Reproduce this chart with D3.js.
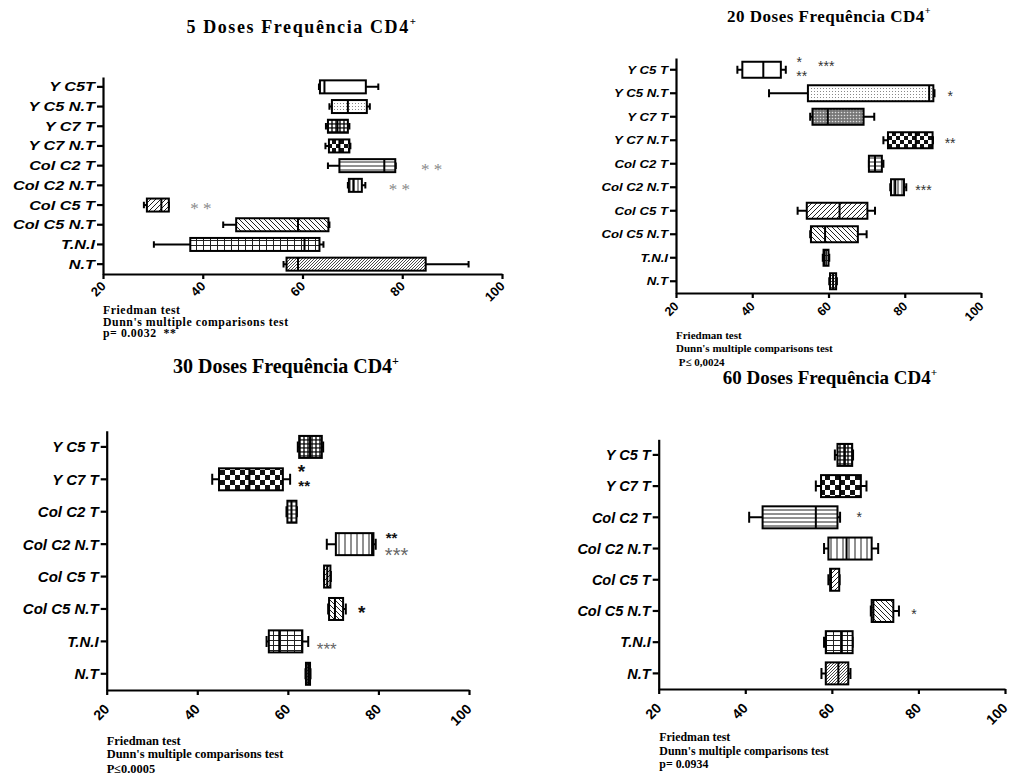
<!DOCTYPE html>
<html>
<head>
<meta charset="utf-8">
<script src="https://cdn.jsdelivr.net/npm/d3@7"></script>
<style>
  body { margin: 0; background: #fff; }
  svg { display: block; }
</style>
</head>
<body>
<div id="chart"></div>
<script>

// ---- Données (min, Q1, médiane, Q3, max) ----

const cats5 = ["Y C5T", "Y C5 N.T", "Y C7 T", "Y C7 N.T", "Col C2 T", "Col C2 N.T", "Col C5 T", "Col C5 N.T", "T.N.I", "N.T"];
const box5 = [
    [63.3, 63.5, 64.4, 72.7, 75.2],
    [65.4, 65.9, 69.1, 72.9, 73.5],
    [64.7, 65.1, 67.0, 69.1, 69.4],
    [64.6, 65.3, 67.4, 69.4, 69.6],
    [65.1, 67.4, 76.4, 78.6, 78.7],
    [69.1, 69.3, 70.2, 71.9, 72.6],
    [28.2, 28.8, 31.7, 33.2, 33.2],
    [44.1, 46.7, 59.1, 65.2, 65.4],
    [30.2, 37.5, 60.4, 63.4, 64.2],
    [56.2, 56.8, 59.1, 84.7, 93.3]
];
const stars5 = [
    { cat: "Col C2 T", x: 85.9, t: "* *", off: 0, kind: "serif" },
    { cat: "Col C2 N.T", x: 79.4, t: "* *", off: 0, kind: "serif" },
    { cat: "Col C5 T", x: 39.6, t: "* *", off: 0, kind: "serif" }
];
const notes5 = ["Friedman test", "Dunn's multiple comparisons test", "p= 0.0032\u00a0\u00a0**"];

const cats20 = ["Y C5 T", "Y C5 N.T", "Y C7 T", "Y C7 N.T", "Col C2 T", "Col C2 N.T", "Col C5 T", "Col C5 N.T", "T.N.I", "N.T"];
const box20 = [
    [36.1, 37.4, 42.9, 47.5, 48.8],
    [44.4, 54.6, 86.4, 87.5, 87.8],
    [55.2, 55.8, 59.8, 69.2, 72.0],
    [74.4, 75.6, 82.9, 87.3, 87.4],
    [70.6, 70.6, 72.2, 74.0, 74.4],
    [76.2, 76.4, 77.5, 79.8, 80.4],
    [51.9, 54.3, 62.9, 70.2, 72.2],
    [55.2, 55.4, 59.1, 67.7, 70.0],
    [58.5, 58.7, 59.0, 60.0, 60.2],
    [60.2, 60.4, 61.2, 62.0, 62.2]
];
const stars20 = [
    { cat: "Y C5 T", x: 52.3, t: "*", off: -0.43, kind: "small" },
    { cat: "Y C5 T", x: 53.0, t: "**", off: 0.13, kind: "small" },
    { cat: "Y C5 T", x: 59.4, t: "***", off: -0.26, kind: "small" },
    { cat: "Y C5 N.T", x: 91.9, t: "*", off: 0, kind: "small" },
    { cat: "Y C7 N.T", x: 91.9, t: "**", off: 0, kind: "small" },
    { cat: "Col C2 N.T", x: 84.9, t: "***", off: 0, kind: "small" }
];
const notes20 = ["Friedman test", "Dunn's multiple comparisons test", " P\u2264 0,0024"];

const cats30 = ["Y C5 T", "Y C7 T", "Col C2 T", "Col C2 N.T", "Col C5 T", "Col C5 N.T", "T.N.I", "N.T"];
const box30 = [
    [62.2, 62.5, 64.9, 67.5, 67.8],
    [43.3, 44.8, 51.5, 58.9, 60.5],
    [59.7, 59.9, 60.8, 61.9, 62.0],
    [68.6, 70.6, 78.6, 78.9, 79.4],
    [68.0, 68.0, 68.7, 69.4, 69.5],
    [68.9, 69.1, 70.4, 72.2, 72.8],
    [55.3, 55.8, 58.1, 63.2, 64.5],
    [63.9, 64.0, 64.5, 64.9, 65.0]
];
const stars30 = [
    { cat: "Y C7 T", x: 63.0, t: "*", off: -0.36, kind: "big" },
    { cat: "Y C7 T", x: 63.6, t: "**", off: 0.12, kind: "mid" },
    { cat: "Col C2 N.T", x: 82.9, t: "**", off: -0.29, kind: "mid" },
    { cat: "Col C2 N.T", x: 84.0, t: "***", off: 0.2, kind: "grayBig" },
    { cat: "Col C5 N.T", x: 76.3, t: "*", off: 0, kind: "big" },
    { cat: "T.N.I", x: 68.6, t: "***", off: 0.13, kind: "gray" }
];
const notes30 = ["Friedman test", "Dunn's multiple comparisons test", "P\u22640.0005"];

const cats60 = ["Y C5 T", "Y C7 T", "Col C2 T", "Col C2 N.T", "Col C5 T", "Col C5 N.T", "T.N.I", "N.T"];
const box60 = [
    [60.7, 61.3, 63.0, 64.7, 64.9],
    [56.3, 57.5, 61.9, 66.7, 68.0],
    [40.9, 44.0, 56.3, 61.3, 61.9],
    [58.2, 59.2, 63.4, 69.2, 70.7],
    [59.2, 59.6, 59.8, 61.7, 61.8],
    [69.0, 69.2, 69.6, 74.2, 75.5],
    [58.2, 58.6, 62.3, 64.8, 64.8],
    [57.6, 58.6, 61.5, 63.8, 64.3]
];
const stars60 = [
    { cat: "Col C2 T", x: 66.3, t: "*", off: -0.09, kind: "small" },
    { cat: "Col C5 N.T", x: 79.0, t: "*", off: 0, kind: "small" }
];
const notes60 = ["Friedman test", "Dunn's multiple comparisons test", "p= 0.0934"];

const xTicks = [20, 40, 60, 80, 100];

// motifs de remplissage par groupe
const fills5 = ["plain", "dotsLight", "dotsDense", "checkS", "hlines", "vlines", "diagR", "diagL", "grid", "diagFine"];
const fills20 = ["plain", "dotsLight", "dotsGray", "checkS", "hlines", "vlines", "diagR", "diagL", "grid", "diagFine"];
const fills30 = ["dotsDense", "checkL", "hlines", "vlinesW", "diagR", "diagL", "grid", "diagFine"];
const fills60 = ["dotsDense", "checkL", "hlines", "vlinesW", "diagR", "diagL", "grid", "diagFine"];


// ---- Canevas ----

const svg = d3.select("#chart")
    .append("svg")
    .attr("width", 1010)
    .attr("height", 775);

const defs = svg.append("defs");

function pattern(id, w, h, bg, draw) {
    const p = defs.append("pattern")
        .attr("id", id)
        .attr("patternUnits", "userSpaceOnUse")
        .attr("width", w)
        .attr("height", h);
    p.append("rect").attr("width", w).attr("height", h).attr("fill", bg);
    if (draw) draw(p);
}

pattern("plain", 4, 4, "#fff");
pattern("dotsLight", 3, 3, "#fff", p => p.append("rect")
    .attr("x", 1).attr("y", 1).attr("width", 1).attr("height", 1).attr("fill", "#888"));
pattern("dotsDense", 4, 4, "#222", p => p.append("circle")
    .attr("cx", 2).attr("cy", 2).attr("r", 1.4).attr("fill", "#fff"));
pattern("dotsGray", 3, 3, "#777", p => p.append("circle")
    .attr("cx", 1.5).attr("cy", 1.5).attr("r", 0.8).attr("fill", "#ddd"));
pattern("checkS", 8, 8, "#fff", p => {
    p.append("rect").attr("width", 4).attr("height", 4).attr("fill", "#111");
    p.append("rect").attr("x", 4).attr("y", 4).attr("width", 4).attr("height", 4).attr("fill", "#111");
});
pattern("checkL", 10, 10, "#fff", p => {
    p.append("rect").attr("width", 5).attr("height", 5).attr("fill", "#111");
    p.append("rect").attr("x", 5).attr("y", 5).attr("width", 5).attr("height", 5).attr("fill", "#111");
});
pattern("hlines", 4, 4, "#fff", p => p.append("path")
    .attr("d", "M0,2H4").attr("stroke", "#222").attr("stroke-width", 1));
pattern("vlines", 4, 4, "#fff", p => p.append("path")
    .attr("d", "M2,0V4").attr("stroke", "#222").attr("stroke-width", 1));
pattern("vlinesW", 6, 6, "#fff", p => p.append("path")
    .attr("d", "M3,0V6").attr("stroke", "#222").attr("stroke-width", 1));
pattern("diagR", 5, 5, "#fff", p => p.append("path")
    .attr("d", "M0,5L5,0M-1,1L1,-1M4,6L6,4").attr("stroke", "#222").attr("stroke-width", 1));
pattern("diagL", 5, 5, "#fff", p => p.append("path")
    .attr("d", "M0,0L5,5M-1,4L1,6M4,-1L6,1").attr("stroke", "#222").attr("stroke-width", 1));
pattern("grid", 7, 5, "#fff", p => p.append("path")
    .attr("d", "M0,0.5H7M0.5,0V5").attr("stroke", "#222").attr("stroke-width", 1));
pattern("diagFine", 3, 3, "#fff", p => p.append("path")
    .attr("d", "M0,3L3,0M-1,1L1,-1M2,4L4,2").attr("stroke", "#333").attr("stroke-width", 0.9));


// styles des astérisques
const starStyle = {
    serif: { family: "'Liberation Serif', 'Times New Roman', serif", size: 17, fill: "#8a8a8a", weight: "normal" },
    small: { family: "'Liberation Sans', Arial, sans-serif", size: 14, fill: "#333", weight: "normal" },
    mid: { family: "'Liberation Sans', Arial, sans-serif", size: 15, fill: "#111", weight: "bold" },
    big: { family: "'Liberation Sans', Arial, sans-serif", size: 19, fill: "#111", weight: "bold" },
    gray: { family: "'Liberation Sans', Arial, sans-serif", size: 17, fill: "#666", weight: "normal" },
    grayBig: { family: "'Liberation Sans', Arial, sans-serif", size: 20, fill: "#666", weight: "normal" }
};


// ---- Panneaux ----

const panels = [
    {
        cats: cats5, boxes: box5, fills: fills5, stars: stars5, notes: notes5,
        title: "5 Doses Frequência CD4",
        x0: 103, x1: 502, y0: 77, y1: 274, boxH: 13,
        tx: 302, ty: 32.5, titleSize: 18, titleSpacing: 1.6,
        labelSize: 12.5, labelStretch: 1.3, tickFont: 13, tickGap: 13,
        noteX: 103, noteY: [314, 325.5, 336.5], noteSize: 11.8, noteSpacing: 0.55
    },
    {
        cats: cats20, boxes: box20, fills: fills20, stars: stars20, notes: notes20,
        title: "20 Doses Frequência CD4",
        x0: 676, x1: 981, y0: 58, y1: 293, boxH: 16,
        tx: 829, ty: 21.5, titleSize: 17, titleSpacing: 0.5,
        labelSize: 11, labelStretch: 1.2, tickFont: 12.5, tickGap: 14,
        noteX: 676, noteY: [339, 351.5, 366], noteSize: 11, noteSpacing: 0
    },
    {
        cats: cats30, boxes: box30, fills: fills30, stars: stars30, notes: notes30,
        title: "30 Doses Frequência CD4",
        x0: 106.7, x1: 469, y0: 430.7, y1: 690, boxH: 22,
        tx: 286, ty: 373, titleSize: 20, titleSpacing: 0,
        labelSize: 15, labelStretch: 1, tickFont: 14, tickGap: 20,
        noteX: 106.7, noteY: [745, 757.5, 772.5], noteSize: 12.4, noteSpacing: 0
    },
    {
        cats: cats60, boxes: box60, fills: fills60, stars: stars60, notes: notes60,
        title: "60 Doses Frequência CD4",
        x0: 658.7, x1: 1005, y0: 439.3, y1: 689, boxH: 22,
        tx: 830, ty: 384, titleSize: 19, titleSpacing: 0,
        labelSize: 14.5, labelStretch: 1, tickFont: 14, tickGap: 20,
        noteX: 659.3, noteY: [741, 755, 768], noteSize: 11.9, noteSpacing: 0
    }
];

panels.forEach(drawPanel);

function drawPanel(p) {

    const g = svg.append("g");

    const scaleX = d3.scaleLinear()
        .domain([20, 100])
        .range([p.x0, p.x1]);

    const scaleY = d3.scaleBand()
        .domain(p.cats)
        .range([p.y0, p.y1])
        .padding(0);

    const step = scaleY.bandwidth();
    const cy = c => scaleY(c) + step / 2;

    // Titre
    const title = g.append("text")
        .attr("x", p.tx)
        .attr("y", p.ty)
        .attr("text-anchor", "middle")
        .attr("font-family", "'Liberation Serif', 'Times New Roman', serif")
        .attr("font-weight", "bold")
        .attr("font-size", p.titleSize + "px")
        .attr("letter-spacing", p.titleSpacing + "px")
        .text(p.title);
    title.append("tspan")
        .attr("font-size", (p.titleSize * 0.6) + "px")
        .attr("dy", -p.titleSize * 0.42)
        .text("+");

    // Boîtes
    const rows = g.selectAll(".row")
        .data(p.cats.map((c, i) => ({ cat: c, v: p.boxes[i], fill: p.fills[i] })))
        .join("g")
        .attr("class", "row");

    rows.append("path")
        .attr("d", d => `M${scaleX(d.v[0])},${cy(d.cat)}H${scaleX(d.v[1])}M${scaleX(d.v[3])},${cy(d.cat)}H${scaleX(d.v[4])}`)
        .attr("stroke", "#000")
        .attr("stroke-width", 2)
        .attr("fill", "none");

    rows.append("path")
        .attr("d", d => `M${scaleX(d.v[0])},${cy(d.cat) - p.boxH / 4}v${p.boxH / 2}M${scaleX(d.v[4])},${cy(d.cat) - p.boxH / 4}v${p.boxH / 2}`)
        .attr("stroke", "#000")
        .attr("stroke-width", 2)
        .attr("fill", "none");

    rows.append("rect")
        .attr("x", d => scaleX(d.v[1]))
        .attr("y", d => cy(d.cat) - p.boxH / 2)
        .attr("width", d => scaleX(d.v[3]) - scaleX(d.v[1]))
        .attr("height", p.boxH)
        .attr("fill", d => `url(#${d.fill})`)
        .attr("stroke", "#000")
        .attr("stroke-width", 2);

    rows.append("line")
        .attr("x1", d => scaleX(d.v[2]))
        .attr("x2", d => scaleX(d.v[2]))
        .attr("y1", d => cy(d.cat) - p.boxH / 2)
        .attr("y2", d => cy(d.cat) + p.boxH / 2)
        .attr("stroke", "#000")
        .attr("stroke-width", 2);

    // Axes
    const yAxis = g.append("g")
        .attr("transform", `translate(${p.x0},0)`)
        .call(d3.axisLeft(scaleY).tickSize(6).tickSizeOuter(0).tickPadding(2));

    yAxis.selectAll("path, line")
        .attr("stroke", "#000")
        .attr("stroke-width", 2.2);

    yAxis.selectAll("text")
        .attr("x", 0)
        .attr("dy", "0.36em")
        .attr("transform", `translate(-8,0) scale(${p.labelStretch},1)`)
        .attr("text-anchor", "end")
        .attr("fill", "#000")
        .attr("font-family", "'Liberation Sans', Arial, sans-serif")
        .attr("font-weight", "bold")
        .attr("font-style", "italic")
        .attr("font-size", p.labelSize + "px");

    const xAxis = g.append("g")
        .attr("transform", `translate(0,${p.y1})`)
        .call(d3.axisBottom(scaleX).tickValues(xTicks).tickSize(5).tickSizeOuter(0));

    xAxis.selectAll("path, line")
        .attr("stroke", "#000")
        .attr("stroke-width", 2.2);

    xAxis.selectAll("text")
        .attr("x", 0)
        .attr("y", 0)
        .attr("dy", 0)
        .attr("text-anchor", "end")
        .attr("transform", `translate(3,${p.tickGap}) rotate(-45)`)
        .attr("fill", "#000")
        .attr("font-family", "'Liberation Sans', Arial, sans-serif")
        .attr("font-weight", "bold")
        .attr("font-size", p.tickFont + "px");

    // Astérisques
    g.selectAll(".star")
        .data(p.stars)
        .join("text")
        .attr("class", "star")
        .attr("x", d => scaleX(d.x))
        .attr("y", d => cy(d.cat) + d.off * step + starStyle[d.kind].size * 0.55)
        .attr("text-anchor", "middle")
        .attr("font-family", d => starStyle[d.kind].family)
        .attr("font-size", d => starStyle[d.kind].size + "px")
        .attr("font-weight", d => starStyle[d.kind].weight)
        .attr("fill", d => starStyle[d.kind].fill)
        .style("white-space", "pre")
        .text(d => d.t);

    // Notes statistiques
    g.selectAll(".note")
        .data(p.notes)
        .join("text")
        .attr("class", "note")
        .attr("x", p.noteX)
        .attr("y", (d, i) => p.noteY[i])
        .attr("font-family", "'Liberation Serif', 'Times New Roman', serif")
        .attr("font-weight", "bold")
        .attr("font-size", p.noteSize + "px")
        .attr("letter-spacing", p.noteSpacing + "px")
        .style("white-space", "pre")
        .text(d => d);
}

</script>
</body>
</html>
